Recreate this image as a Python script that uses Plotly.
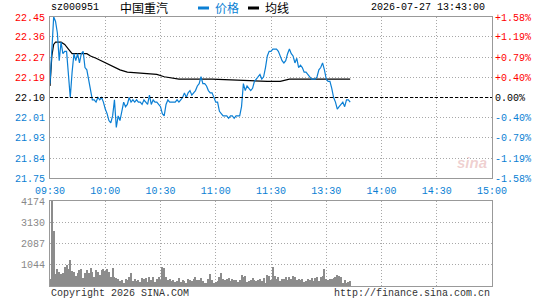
import plotly.graph_objects as go

# ---------------- data ----------------
stock_code = "sz000951"
stock_name = "中国重汽"
timestamp = "2026-07-27 13:43:00"
legend_price = "价格"
legend_avg = "均线"
footer_left = "Copyright 2026 SINA.COM"
footer_right = "http://finance.sina.com.cn"

prev_close = 22.10
pct_levels = [1.58, 1.19, 0.79, 0.40, 0.00, -0.40, -0.79, -1.19, -1.58]
price_labels = ["22.45", "22.36", "22.27", "22.19", "22.10", "22.01", "21.93", "21.84", "21.75"]
pct_labels = ["+1.58%", "+1.19%", "+0.79%", "+0.40%", "0.00%", "-0.40%", "-0.79%", "-1.19%", "-1.58%"]

time_ticks = [0, 30, 60, 90, 120, 150, 180, 210, 240]
time_labels = ["09:30", "10:00", "10:30", "11:00", "11:30", "13:30", "14:00", "14:30", "15:00"]

vol_ticks = [1044, 2087, 3130, 4174]
vol_labels = ["1044", "2087", "3130", "4174"]

# minute-by-minute last price (index 0 = 09:30, 120 = 11:30/13:00)
price = [
    22.16, 22.30, 22.45, 22.43, 22.38, 22.26, 22.34, 22.29, 22.30, 22.30,
    22.20, 22.10, 22.21, 22.29, 22.26, 22.29, 22.25, 22.29, 22.30, 22.23,
    22.22, 22.18, 22.14, 22.09, 22.09, 22.08, 22.10, 22.09, 22.10, 22.08,
    22.05, 22.03, 22.00, 21.99, 22.02, 22.09, 21.97, 22.02, 22.00, 22.04,
    22.08, 22.06, 22.07, 22.10, 22.08, 22.09, 22.08, 22.09, 22.08, 22.08,
    22.07, 22.09, 22.08, 22.07, 22.11, 22.07, 22.09, 22.08, 22.08, 22.07,
    22.06, 22.03, 22.02, 22.07, 22.09, 22.08, 22.08, 22.08, 22.08, 22.09,
    22.08, 22.09, 22.10, 22.12, 22.10, 22.12, 22.13, 22.11, 22.12, 22.13,
    22.15, 22.16, 22.19, 22.16, 22.16, 22.15, 22.13, 22.12, 22.12, 22.10,
    22.08, 22.08, 22.04, 22.03, 22.02, 22.02, 22.02, 22.01, 22.02, 22.02,
    22.01, 22.02, 22.02, 22.02, 22.06, 22.16, 22.13, 22.15, 22.14, 22.13,
    22.14, 22.17, 22.18, 22.19, 22.20, 22.18, 22.19, 22.23, 22.28, 22.30,
    22.30, 22.31, 22.31, 22.31, 22.30, 22.28, 22.26, 22.25, 22.26, 22.29,
    22.31, 22.29, 22.28, 22.25, 22.27, 22.23, 22.24, 22.23, 22.21, 22.21,
    22.20, 22.19, 22.18, 22.18, 22.18, 22.19, 22.22, 22.23, 22.25, 22.22,
    22.18, 22.17, 22.17, 22.14, 22.10, 22.08, 22.05, 22.06, 22.07, 22.08,
    22.06, 22.09, 22.09, 22.08,
]

# average price line read at selected minutes
avg_minutes = [0, 1, 2, 3, 6, 8, 10, 12, 20, 22, 25, 30, 35, 38, 42, 50, 58, 62, 70, 88, 100, 118, 125, 130, 163]
avg_values = [22.15, 22.28, 22.33, 22.34, 22.34, 22.33, 22.31, 22.29, 22.29, 22.28, 22.27, 22.25, 22.23, 22.22,
              22.21, 22.205, 22.20, 22.19, 22.18, 22.18, 22.175, 22.17, 22.17, 22.18, 22.18]

volume = [
    330, 4174, 2690, 594, 840, 710, 594, 660, 925, 1040,
    825, 1290, 760, 710, 495, 627, 792, 825, 380, 627,
    792, 660, 875, 710, 430, 792, 710, 545, 792, 825,
    760, 825, 710, 430, 875, 430, 380, 330, 264, 300,
    130, 330, 300, 430, 660, 264, 330, 264, 300, 215,
    380, 330, 380, 215, 430, 300, 430, 215, 330, 430,
    300, 925, 875, 430, 300, 330, 264, 300, 215, 264,
    380, 215, 300, 264, 165, 330, 300, 264, 330, 430,
    300,
    300, 380, 264, 165, 165, 330, 594, 300, 165, 215,
    264, 430, 660, 330, 300, 330, 380, 264, 330, 300,
    300, 215, 300, 545, 430, 495, 215, 264, 300, 380,
    300, 264, 300, 330, 264, 380, 165, 545, 495, 300,
    957, 495, 330, 430, 264, 330, 330, 430, 300, 462,
    330, 495, 462, 300, 330, 300, 330, 215, 264, 330,
    300, 380, 264, 380, 430, 264, 430, 495, 858, 330,
    300, 330, 330, 380, 430, 545, 495, 430, 165, 300,
    165, 215, 264,
]

# ---------------- styling ----------------
W, H = 545, 300
RED = "#ff0000"
BLUE = "#0b7fd4"
BLACK = "#000000"
GRID = "#a8a8a8"
FRAME = "#999999"
MONO = "Liberation Mono"
CJK = "Noto Sans CJK SC"

left_px, right_px = 50, 492
px_top, px_bot = 17, 178
vol_top, vol_bot = 201, 286

xdom = [left_px / W, right_px / W]
ydom_price = [(H - px_bot) / H, (H - px_top) / H]
ydom_vol = [(H - vol_bot) / H, (H - vol_top) / H]

levels = [prev_close * (1 + p / 100) for p in pct_levels]
y_lo = prev_close * (1 - max(pct_levels) / 100)
y_hi = prev_close * (1 + max(pct_levels) / 100)


def colored(labels, pcts):
    out = []
    for lab, p in zip(labels, pcts):
        c = RED if p > 0 else (BLUE if p < 0 else BLACK)
        out.append(f'<span style="color:{c}">{lab}</span>')
    return out


minutes = list(range(len(price)))

fig = go.Figure()
fig.add_trace(go.Bar(x=minutes, y=volume, xaxis="x2", yaxis="y2",
                     marker=dict(color="#8c8c8c", line=dict(width=0)), width=0.55))
fig.add_trace(go.Scatter(x=avg_minutes, y=avg_values, mode="lines", xaxis="x", yaxis="y",
                         line=dict(color=BLACK, width=1.2)))
fig.add_trace(go.Scatter(x=minutes, y=price, mode="lines", xaxis="x", yaxis="y",
                         line=dict(color=BLUE, width=1.2)))
# invisible trace to keep right axis alive
fig.add_trace(go.Scatter(x=[0], y=[prev_close], xaxis="x", yaxis="y3", mode="markers",
                         marker=dict(opacity=0), hoverinfo="skip"))

grid_common = dict(showgrid=True, gridcolor=GRID, gridwidth=1, griddash="1px,2px",
                   showline=True, linecolor=FRAME, linewidth=1, mirror=True,
                   zeroline=False, ticks="", automargin=False)

fig.update_layout(
    width=W, height=H, autosize=False,
    margin=dict(l=0, r=0, t=0, b=0, pad=0),
    paper_bgcolor="white", plot_bgcolor="white",
    showlegend=False, bargap=0,
    font=dict(family=MONO, size=10, color=BLACK),
    xaxis=dict(domain=xdom, anchor="y", range=[0, 240], tickmode="array",
               tickvals=time_ticks, ticktext=time_labels,
               tickfont=dict(family=MONO, size=10, color=BLUE), ticklabelstandoff=3,
               **grid_common),
    yaxis=dict(domain=ydom_price, anchor="x", range=[y_lo, y_hi], tickmode="array",
               tickvals=levels, ticktext=colored(price_labels, pct_levels),
               tickfont=dict(family=MONO, size=10), ticklabelstandoff=2,
               **grid_common),
    yaxis3=dict(overlaying="y", anchor="x", side="right", range=[y_lo, y_hi], tickmode="array",
                tickvals=levels, ticktext=colored(pct_labels, pct_levels),
                tickfont=dict(family=MONO, size=10), showgrid=False, zeroline=False,
                showline=False, ticks="", ticklabelstandoff=2, automargin=False),
    xaxis2=dict(domain=xdom, anchor="y2", range=[0, 240], tickmode="array",
                tickvals=time_ticks, showticklabels=False, **grid_common),
    yaxis2=dict(domain=ydom_vol, anchor="x2", range=[0, vol_ticks[-1]], tickmode="array",
                tickvals=vol_ticks, ticktext=vol_labels,
                tickfont=dict(family=MONO, size=10, color="#888888"), ticklabelstandoff=2,
                **grid_common),
)

# previous close dashed line
fig.add_shape(type="line", xref="x", yref="y", x0=0, x1=240, y0=prev_close, y1=prev_close,
              line=dict(color=BLACK, width=1, dash="3px,2px"))

# header
ty = (H - 8) / H
fig.add_annotation(x=49 / W, y=ty, xref="paper", yref="paper", xanchor="left", yanchor="middle",
                   text=stock_code, showarrow=False, font=dict(family=MONO, size=10, color=BLACK))
fig.add_annotation(x=118 / W, y=ty, xref="paper", yref="paper", xanchor="left", yanchor="middle",
                   text=stock_name, showarrow=False, font=dict(family=CJK, size=12, color=BLACK))
fig.add_shape(type="line", xref="paper", yref="paper", x0=198 / W, x1=209 / W, y0=ty, y1=ty,
              line=dict(color=BLUE, width=3))
fig.add_annotation(x=213 / W, y=ty, xref="paper", yref="paper", xanchor="left", yanchor="middle",
                   text=legend_price, showarrow=False, font=dict(family=CJK, size=12, color=BLUE))
fig.add_shape(type="line", xref="paper", yref="paper", x0=248 / W, x1=259 / W, y0=ty, y1=ty,
              line=dict(color=BLACK, width=3))
fig.add_annotation(x=263 / W, y=ty, xref="paper", yref="paper", xanchor="left", yanchor="middle",
                   text=legend_avg, showarrow=False, font=dict(family=CJK, size=12, color=BLACK))
fig.add_annotation(x=487 / W, y=ty, xref="paper", yref="paper", xanchor="right", yanchor="middle",
                   text=timestamp, showarrow=False, font=dict(family=MONO, size=10, color=BLACK))

# footer
fy = (H - 293) / H
fig.add_annotation(x=49 / W, y=fy, xref="paper", yref="paper", xanchor="left", yanchor="middle",
                   text=footer_left, showarrow=False, font=dict(family=MONO, size=10, color="#333333"))
fig.add_annotation(x=492 / W, y=fy, xref="paper", yref="paper", xanchor="right", yanchor="middle",
                   text=footer_right, showarrow=False, font=dict(family=MONO, size=10, color="#333333"))

# watermark
fig.add_annotation(x=472 / W, y=(H - 162) / H, xref="paper", yref="paper", xanchor="center",
                   yanchor="middle", text="<b><i>sina</i></b>", showarrow=False,
                   font=dict(family="Liberation Sans", size=15, color="rgba(210,120,120,0.35)"))

fig.write_html("out.html")
